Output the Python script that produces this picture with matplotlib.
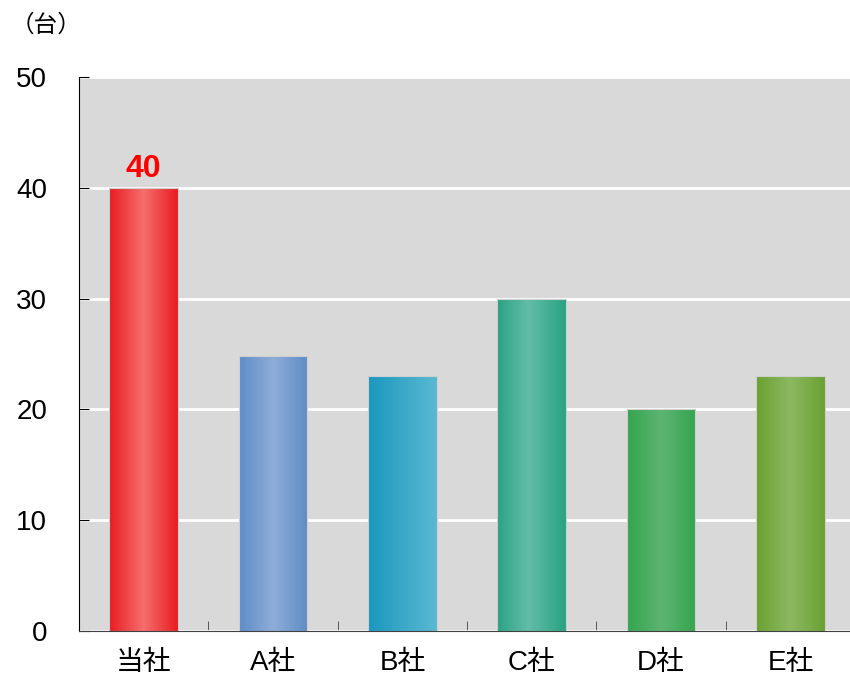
import numpy as np
import matplotlib.pyplot as plt
from matplotlib.colors import LinearSegmentedColormap

plt.rcParams['font.family'] = ['Liberation Sans', 'Noto Sans CJK JP', 'DejaVu Sans']

companies = ['当社', 'A社', 'B社', 'C社', 'D社', 'E社']
units = [40, 24.8, 23, 30, 20, 23]
# (edge colour, highlight colour, highlight position across the bar)
shades = [
    ('#e81c22', '#f56e6c', 0.5),
    ('#5f8cc6', '#8eadd8', 0.5),
    ('#1a97bd', '#5ab9d3', 1.0),
    ('#2ba283', '#62bda8', 0.45),
    ('#34a550', '#5db471', 0.5),
    ('#6aa131', '#8db862', 0.5),
]

fig = plt.figure(figsize=(8.5, 6.77), dpi=100)
ax = fig.add_axes([0.093, 0.068, 0.913, 0.818])
ax.set_facecolor('#d9d9d9')

x = np.arange(len(companies))
bars = ax.bar(x, units, width=0.53, color='none', edgecolor='#cfcfcf',
              linewidth=0.8, zorder=3)

# horizontal gradient fill for each bar, clipped to the bar outline
grad = np.linspace(0, 1, 256).reshape(1, -1)
for bar, (edge, light, pos) in zip(bars, shades):
    stops = [(0, edge), (pos, light)]
    if pos < 1:
        stops.append((1, edge))
    cmap = LinearSegmentedColormap.from_list('g', stops)
    x0, y0 = bar.get_x(), bar.get_y()
    h = bar.get_height()
    im = ax.imshow(grad, cmap=cmap, aspect='auto', zorder=2, interpolation='bilinear',
                   extent=[x0, x0 + bar.get_width(), y0, y0 + h + 2])
    im.set_clip_path(bar)

ax.set_xlim(-0.5, len(companies) - 0.5)
ax.set_ylim(0, 50)
ax.set_yticks([0, 10, 20, 30, 40, 50])
ax.yaxis.grid(True, color='white', linewidth=2)
ax.set_axisbelow(True)

ax.set_xticks(x)
ax.set_xticklabels(companies, fontsize=20)
ax.set_xticks(x[:-1] + 0.5, minor=True)
ax.tick_params(axis='x', which='major', length=0, pad=14)
ax.tick_params(axis='x', which='minor', direction='in', length=7, color='#404040')
ax.tick_params(axis='y', direction='in', length=7, labelsize=20, pad=23)

for side in ['top', 'right']:
    ax.spines[side].set_visible(False)
ax.spines['left'].set_color('black')
ax.spines['bottom'].set_color('#404040')

ax.text(x[0], units[0] + 0.4, '40', color='#ff0000', fontsize=23,
        fontweight='bold', ha='center', va='bottom')
fig.text(0.012, 0.962, '（台）', fontsize=17, ha='left', va='center',
         family=['Noto Sans CJK JP', 'DejaVu Sans'])

fig.savefig('out.png', dpi=100)
